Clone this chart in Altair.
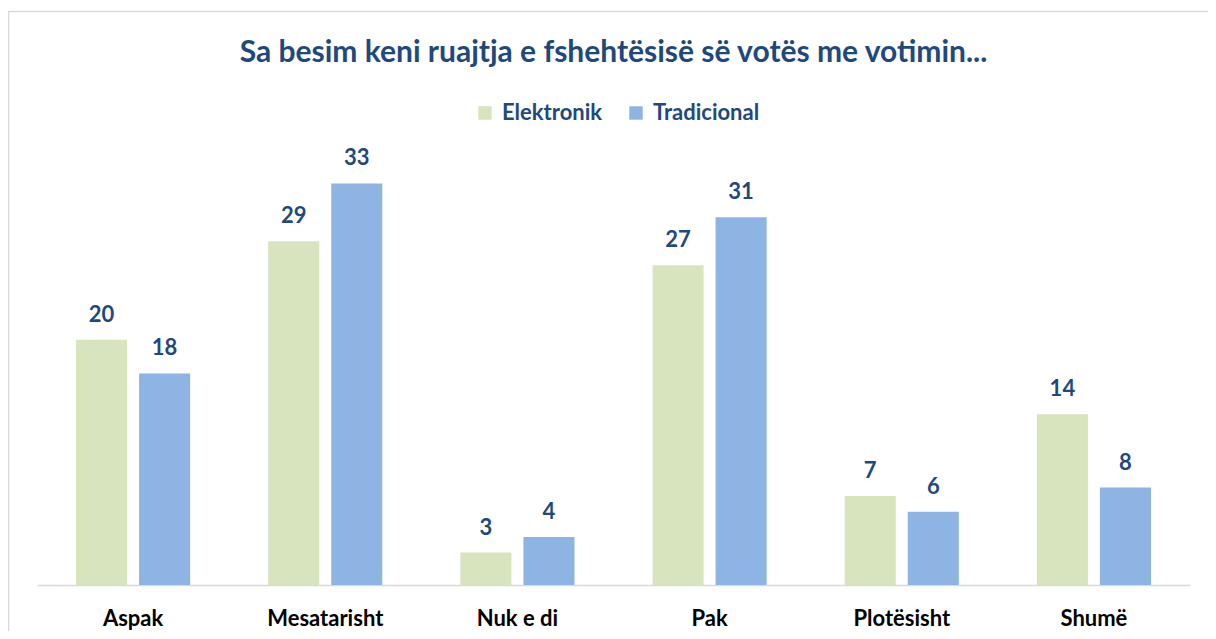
import altair as alt
import pandas as pd

categories = ["Aspak", "Mesatarisht", "Nuk e di", "Pak", "Plotësisht", "Shumë"]
series = ["Elektronik", "Tradicional"]
elektronik = [20.4, 28.6, 2.7, 26.6, 7.4, 14.2]
tradicional = [17.6, 33.4, 4.0, 30.6, 6.1, 8.1]
colors = ["#d7e4bd", "#8eb4e3"]
title_text = "Sa besim keni ruajtja e fshehtësisë së votës me votimin..."

rows = []
for c, e, t in zip(categories, elektronik, tradicional):
    rows.append({"kategoria": c, "seria": series[0], "vlera": e})
    rows.append({"kategoria": c, "seria": series[1], "vlera": t})
df = pd.DataFrame(rows)

W, H = 1153, 440
FONT = "Lato"
DARK = "#1f497d"

x_enc = alt.X("kategoria:N", sort=categories, title=None,
              scale=alt.Scale(paddingInner=0.406, paddingOuter=0.203),
              axis=alt.Axis(labelAngle=0, labelFont=FONT, labelFontSize=22,
                            labelFontWeight="bold", labelColor="#000000",
                            labelPadding=23, ticks=False, domainColor="#d9d9d9",
                            domainWidth=1.5))
xo_enc = alt.XOffset("seria:N", sort=series,
                     scale=alt.Scale(paddingInner=0.19, paddingOuter=0))
y_enc = alt.Y("vlera:Q", scale=alt.Scale(domain=[0, 36.6], nice=False, zero=True),
              axis=None)

base = alt.Chart(df)

bars = base.mark_bar().encode(
    x=x_enc, xOffset=xo_enc, y=y_enc,
    color=alt.Color("seria:N", sort=series,
                    scale=alt.Scale(domain=series, range=colors),
                    legend=alt.Legend(title=None, orient="none", direction="horizontal",
                                      legendX=437, legendY=-43,
                                      symbolType="square", symbolSize=180,
                                      symbolStrokeWidth=0,
                                      labelFont=FONT, labelFontSize=22,
                                      labelFontWeight="bold", labelColor=DARK,
                                      labelOffset=6, columnPadding=22)),
)

labels = base.mark_text(baseline="alphabetic", dy=-18, font=FONT, fontSize=22,
                        fontWeight="bold", color=DARK).encode(
    x=x_enc, xOffset=xo_enc, y=y_enc,
    text=alt.Text("vlera:Q", format=".0f"),
)

border = alt.Chart(pd.DataFrame({"a": [0]})).mark_rect(
    fill="transparent", stroke="#d9d9d9", strokeWidth=1.5
).encode(
    x=alt.value(-28.5), x2=alt.value(W + 60),
    y=alt.value(-133.5), y2=alt.value(H + 80),
)

chart = alt.layer(border, bars, labels).properties(
    width=W, height=H,
    title=alt.TitleParams(title_text, font=FONT, fontSize=30, fontWeight="bold",
                          color=DARK, anchor="middle", offset=-57),
    autosize=alt.AutoSizeParams(type="none"),
    padding={"left": 29, "top": 137, "right": 18, "bottom": 46},
).configure(background="#ffffff").configure_view(strokeWidth=0, stroke="transparent")

chart.save("out.html", embed_options={"renderer": "svg", "actions": False})
